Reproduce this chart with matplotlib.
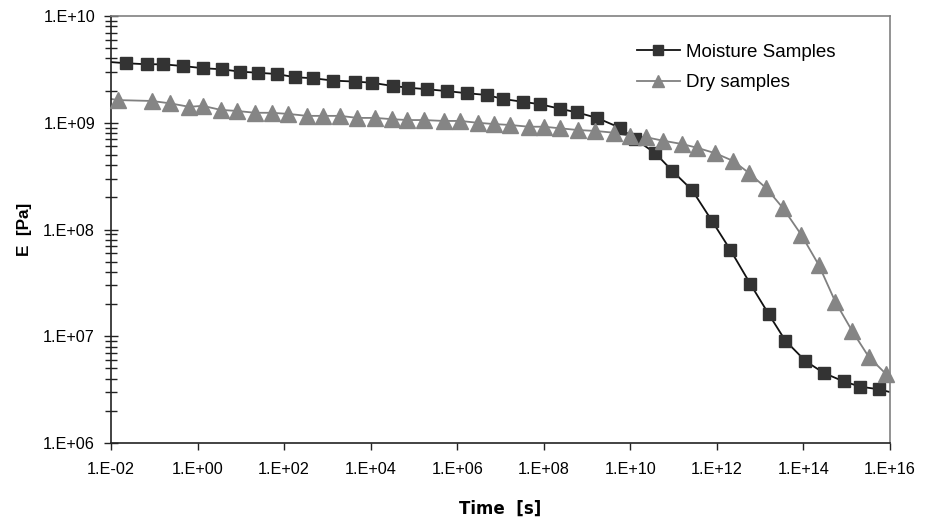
import numpy as np
import matplotlib
matplotlib.use("Agg")
import matplotlib.pyplot as plt
from matplotlib.ticker import FixedLocator, LogLocator, FuncFormatter, NullLocator

plt.rcParams["font.family"] = ["Liberation Sans", "DejaVu Sans"]

# ---- data (time as log10 seconds, modulus in Pa) ----
moist_log_t = [-1.65, -1.175, -0.805, -0.342, 0.134, 0.560, 0.983, 1.406, 1.831,
               2.254, 2.678, 3.140, 3.642, 4.028, 4.513, 4.874, 5.300, 5.762,
               6.224, 6.687, 7.057, 7.519, 7.919, 8.382, 8.768, 9.230, 9.753,
               10.116, 10.578, 10.964, 11.427, 11.889, 12.312, 12.775, 13.198,
               13.584, 14.046, 14.470, 14.932, 15.318, 15.750]
moist_E = [3.61e9, 3.53e9, 3.53e9, 3.40e9, 3.24e9, 3.17e9, 3.01e9, 2.94e9, 2.86e9,
           2.67e9, 2.61e9, 2.48e9, 2.43e9, 2.37e9, 2.21e9, 2.13e9, 2.06e9, 1.98e9,
           1.89e9, 1.82e9, 1.67e9, 1.57e9, 1.49e9, 1.35e9, 1.25e9, 1.11e9, 9.0e8,
           7.0e8, 5.18e8, 3.56e8, 2.34e8, 1.20e8, 6.43e7, 3.08e7, 1.61e7,
           9.08e6, 5.86e6, 4.53e6, 3.77e6, 3.37e6, 3.18e6]

dry_log_t = [-1.831, -1.059, -0.636, -0.190, 0.120, 0.536, 0.906, 1.329, 1.716,
             2.099, 2.525, 2.909, 3.295, 3.695, 4.104, 4.490, 4.851, 5.221,
             5.683, 6.069, 6.469, 6.839, 7.225, 7.649, 7.996, 8.382, 8.782,
             9.191, 9.614, 10.000, 10.370, 10.756, 11.195, 11.542, 11.965,
             12.374, 12.735, 13.145, 13.531, 13.954, 14.354, 14.740, 15.126,
             15.510, 15.908]
dry_E = [1.63e9, 1.60e9, 1.52e9, 1.41e9, 1.44e9, 1.32e9, 1.29e9, 1.24e9, 1.24e9,
         1.21e9, 1.16e9, 1.16e9, 1.16e9, 1.11e9, 1.11e9, 1.08e9, 1.06e9, 1.06e9,
         1.04e9, 1.04e9, 1.00e9, 9.73e8, 9.53e8, 9.18e8, 9.18e8, 8.87e8, 8.55e8,
         8.38e8, 8.07e8, 7.52e8, 7.31e8, 6.79e8, 6.32e8, 5.83e8, 5.18e8,
         4.39e8, 3.40e8, 2.43e8, 1.58e8, 8.87e7, 4.65e7, 2.09e7, 1.12e7,
         6.40e6, 4.43e6]

# fitted curve runs past the data to the axis limits
moist_curve_ends = [(1e-2, 3.7e9), (1e16, 3.0e6)]
dry_curve_ends = [(1e-2, 1.67e9), (1e16, 3.8e6)]

labels = ["Moisture Samples", "Dry samples"]

moist_t = 10.0 ** np.array(moist_log_t)
dry_t = 10.0 ** np.array(dry_log_t)

fig = plt.figure(figsize=(9.26, 5.2), dpi=100)
ax = fig.add_axes([111 / 926, 1 - 443 / 520, (890 - 111) / 926, (443 - 16) / 520])

for t, E, ends, color, mcolor, marker, ms, lab in [
    (moist_t, moist_E, moist_curve_ends, "#111111", "#333333", "s", 8, labels[0]),
    (dry_t, dry_E, dry_curve_ends, "#808080", "#858585", "^", 11, labels[1]),
]:
    ct = [ends[0][0]] + list(t) + [ends[1][0]]
    cE = [ends[0][1]] + list(E) + [ends[1][1]]
    ax.plot(ct, cE, color=color, lw=1.3, zorder=2)
    ax.plot(t, E, linestyle="none", marker=marker, ms=ms, color=mcolor,
            markeredgecolor=mcolor, zorder=3, clip_on=False)
    # legend proxy
    ax.plot([], [], color=color, lw=1.3, marker=marker, ms=ms * 0.85,
            markerfacecolor=mcolor, markeredgecolor=mcolor, label=lab)

ax.set_xscale("log")
ax.set_yscale("log")
ax.set_xlim(1e-2, 1e16)
ax.set_ylim(1e6, 1e10)

fmt = FuncFormatter(lambda v, p: "1.E%+03d" % int(round(np.log10(v))))
ax.xaxis.set_major_locator(FixedLocator([10.0 ** e for e in range(-2, 17, 2)]))
ax.xaxis.set_minor_locator(NullLocator())
ax.xaxis.set_major_formatter(fmt)
ax.yaxis.set_major_locator(FixedLocator([10.0 ** e for e in range(6, 11)]))
ax.yaxis.set_minor_locator(LogLocator(base=10, subs=np.arange(2, 10)))
ax.yaxis.set_major_formatter(fmt)

ax.tick_params(axis="x", which="major", direction="out", length=5, width=1,
               labelsize=11.7, pad=9, color="#222222")
ax.tick_params(axis="y", which="both", direction="inout", length=10, width=1,
               labelsize=11.7, pad=6.5, color="#222222")
ax.tick_params(axis="y", which="minor", length=9)

for side in ["top", "right"]:
    ax.spines[side].set_color("#808080")
    ax.spines[side].set_linewidth(1.2)
for side in ["left", "bottom"]:
    ax.spines[side].set_color("#222222")
    ax.spines[side].set_linewidth(1.2)

ax.set_xlabel("Time  [s]", fontsize=12, fontweight="bold", labelpad=16,
              family=["DejaVu Sans"])
ax.set_ylabel("E  [Pa]", fontsize=12.3, fontweight="bold", labelpad=8)

ax.legend(loc="upper left", bbox_to_anchor=(0.675, 0.935), frameon=False,
          fontsize=13.5, handlelength=2.3, labelspacing=0.7, handletextpad=0.32,
          borderaxespad=0, borderpad=0)

fig.savefig("out.png", dpi=100, facecolor="white")
